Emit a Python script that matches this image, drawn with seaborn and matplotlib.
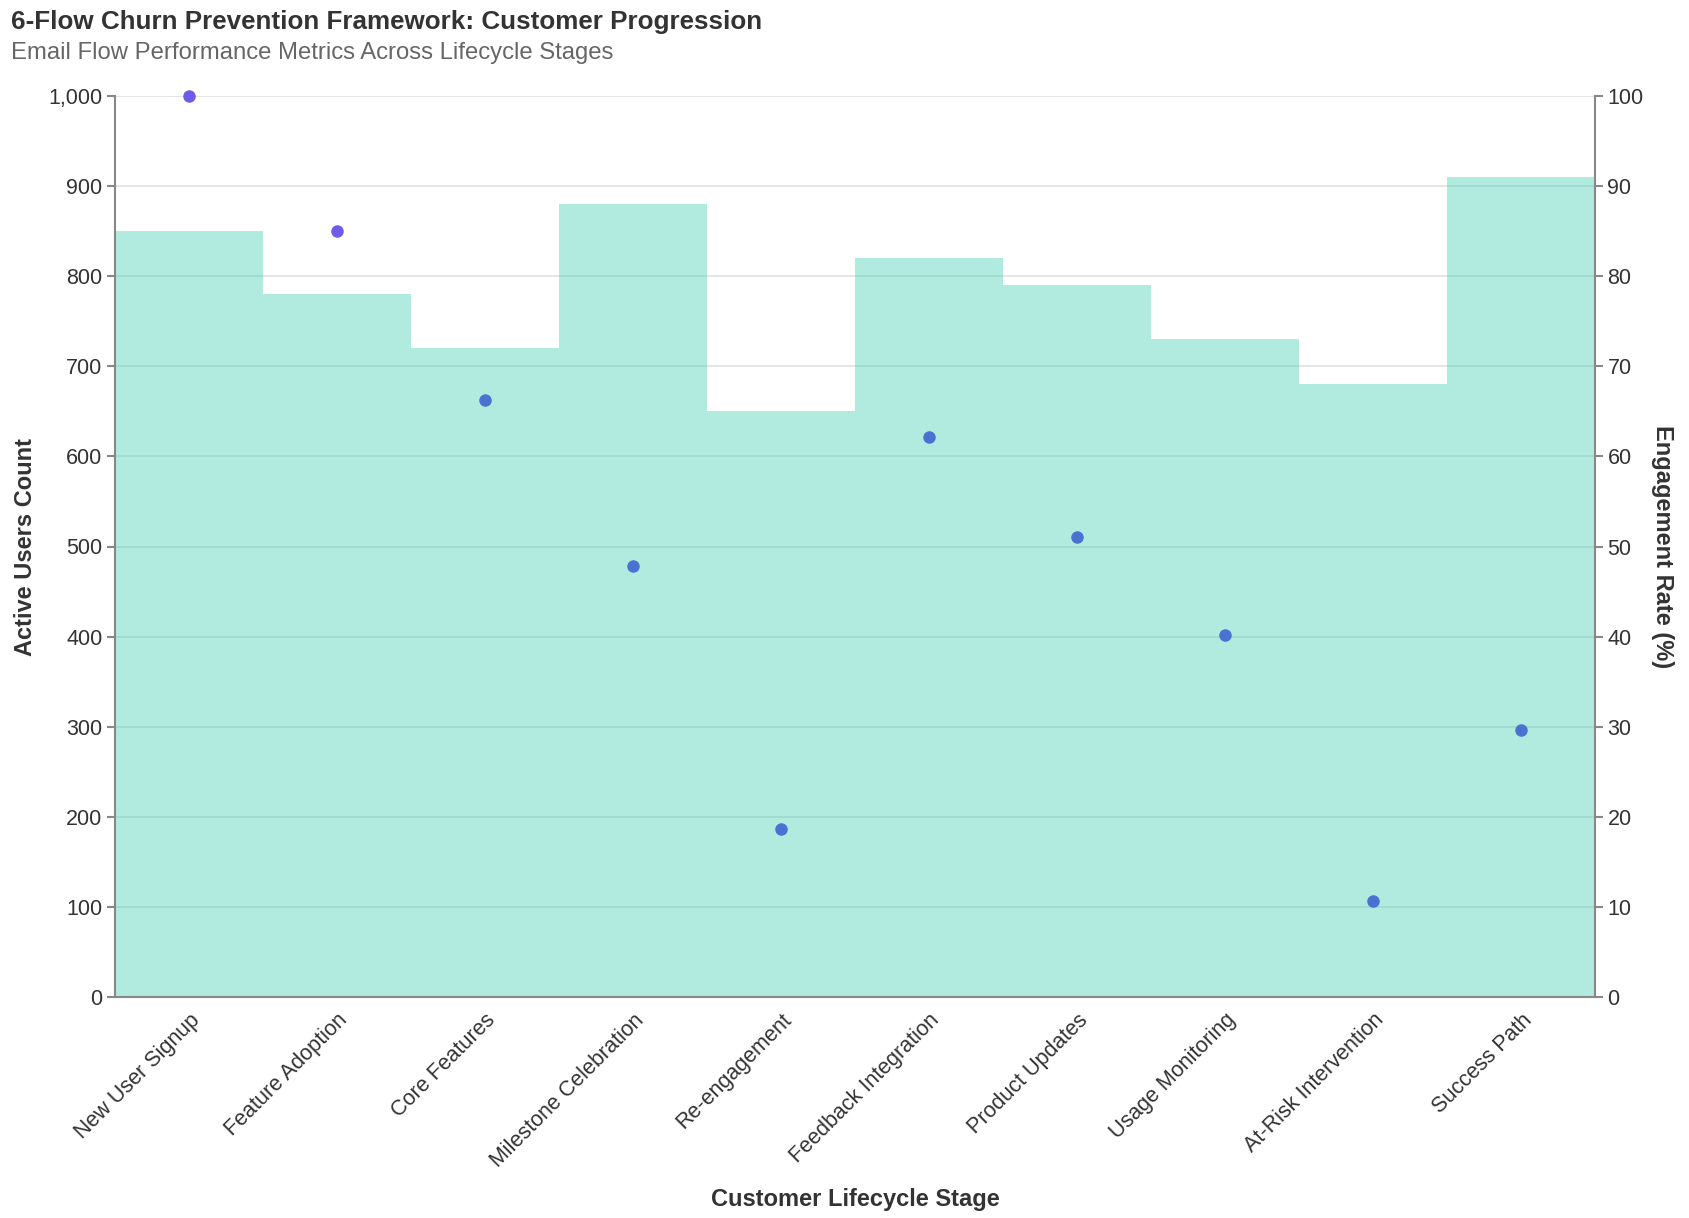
import matplotlib
matplotlib.use("Agg")
import matplotlib.pyplot as plt
import matplotlib.ticker as mticker
import seaborn as sns
import pandas as pd

# chart data
stages = ["New User Signup", "Feature Adoption", "Core Features", "Milestone Celebration",
          "Re-engagement", "Feedback Integration", "Product Updates", "Usage Monitoring",
          "At-Risk Intervention", "Success Path"]
active_users = [1000, 850, 663, 478, 186, 621, 510, 402, 107, 296]
engagement = [85, 78, 72, 88, 65, 82, 79, 73, 68, 91]
tier = ["high", "high", "base", "base", "base", "base", "base", "base", "base", "base"]

df = pd.DataFrame({"stage": stages, "users": active_users,
                   "engagement": engagement, "tier": tier})

sns.set_style("white")
plt.rcParams["font.family"] = ["Liberation Sans", "DejaVu Sans"]

W, H = 1690, 1218
fig = plt.figure(figsize=(W / 100, H / 100), dpi=100)
ax1 = fig.add_axes([115 / W, 1 - 997 / H, 1480 / W, 901 / H])
ax2 = ax1.twinx()

# engagement area (bars filling the whole band) on the right axis
sns.barplot(data=df, x="stage", y="engagement", order=stages, ax=ax2, width=1.0,
            color="#3ecdb1", alpha=0.4, saturation=1, linewidth=0)
ax2.set_ylim(0, 100)
ax2.yaxis.set_major_locator(mticker.MultipleLocator(10))
ax2.grid(axis="y", color="#e0e0e0", linewidth=1.2)
ax2.set_axisbelow(True)

# active users points on the left axis
sns.stripplot(data=df, x="stage", y="users", hue="tier", order=stages, ax=ax1,
              palette={"high": "#6c5ce7", "base": "#4a72d0"}, jitter=False,
              size=9, linewidth=0, legend=False, zorder=5, clip_on=False)
ax1.set_zorder(ax2.get_zorder() + 1)
ax1.patch.set_visible(False)
ax1.set_ylim(0, 1000)
ax1.set_xlim(-0.5, len(stages) - 0.5)
ax1.yaxis.set_major_locator(mticker.MultipleLocator(100))
ax1.yaxis.set_major_formatter(mticker.StrMethodFormatter("{x:,.0f}"))
ax1.grid(False)

axis_col = "#888888"
text_col = "#333333"
for a in (ax1, ax2):
    for s in a.spines.values():
        s.set_visible(False)
ax1.spines["left"].set_visible(True)
ax1.spines["bottom"].set_visible(True)
ax2.spines["right"].set_visible(True)
for s in (ax1.spines["left"], ax1.spines["bottom"], ax2.spines["right"]):
    s.set_color(axis_col)
    s.set_linewidth(1.5)

ax1.tick_params(axis="both", length=6, width=1.5, color=axis_col,
                labelcolor=text_col, labelsize=15.5, pad=3)
ax2.tick_params(axis="y", length=6, width=1.5, color=axis_col,
                labelcolor=text_col, labelsize=15.5, pad=3)

ax1.set_xticks(range(len(stages)))
ax1.set_xticklabels(stages, rotation=45, ha="right", rotation_mode="anchor")

ax1.set_xlabel("Customer Lifecycle Stage", fontsize=17, fontweight="bold",
               color=text_col, labelpad=12)
ax1.set_ylabel("Active Users Count", fontsize=17, fontweight="bold",
               color=text_col, labelpad=8)
ax2.set_ylabel("Engagement Rate (%)", fontsize=17, fontweight="bold",
               color=text_col, rotation=270, labelpad=22)
ax2.set_xlabel("")

fig.text(11 / W, 1 - 22 / H, "6-Flow Churn Prevention Framework: Customer Progression",
         fontsize=18.7, fontweight="bold", color=text_col, va="center", ha="left")
fig.text(11 / W, 1 - 53 / H, "Email Flow Performance Metrics Across Lifecycle Stages",
         fontsize=17.2, color="#666666", va="center", ha="left")

fig.savefig("out.png", dpi=100, facecolor="white")
